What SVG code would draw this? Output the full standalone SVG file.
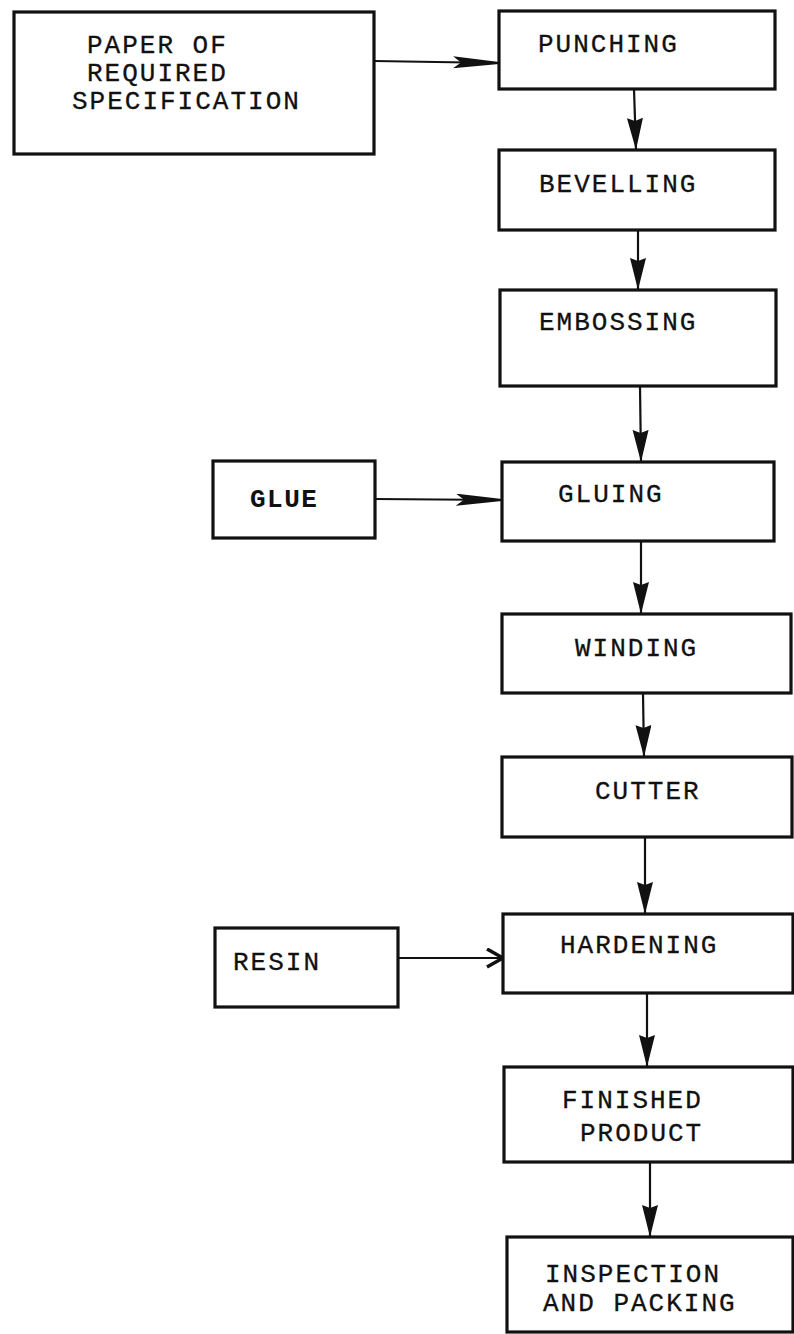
<svg xmlns="http://www.w3.org/2000/svg" width="794" height="1334" viewBox="0 0 794 1334">
<style>
.box{fill:#fff;stroke:#111;stroke-width:3.2}
.t{font-family:"Liberation Mono","Courier New",monospace;font-size:26px;letter-spacing:2px;fill:#111;stroke:#111;stroke-width:0.3}
.tb{font-family:"Liberation Mono","Courier New",monospace;font-size:26px;letter-spacing:1.5px;font-weight:bold;fill:#111}
.c{fill:none;stroke:#111;stroke-width:2.2}
</style>
<defs>
<marker id="ah" markerUnits="userSpaceOnUse" markerWidth="34" markerHeight="18" refX="32" refY="8" orient="auto">
<path d="M0,0 L32,8 L0,16 L3,8 Z" fill="#111"/>
</marker>
<marker id="ahl" markerUnits="userSpaceOnUse" markerWidth="48" markerHeight="14" refX="46" refY="6" orient="auto">
<path d="M0,0 L46,5 L46,7 L0,12 L8,6 Z" fill="#111"/>
</marker>
<marker id="aho" markerUnits="userSpaceOnUse" markerWidth="20" markerHeight="22" refX="17" refY="10" orient="auto">
<path d="M1,1 L17,10 L1,19" fill="none" stroke="#111" stroke-width="3.5"/>
</marker>
</defs>
<rect width="794" height="1334" fill="#fff"/>
<g id="connectors">
<line class="c" x1="374" y1="61" x2="499" y2="63" marker-end="url(#ahl)"/>
<line class="c" x1="634" y1="89" x2="636" y2="150" marker-end="url(#ah)"/>
<line class="c" x1="638" y1="230" x2="638" y2="290" marker-end="url(#ah)"/>
<line class="c" x1="640" y1="386" x2="641" y2="462" marker-end="url(#ah)"/>
<line class="c" x1="375" y1="499" x2="502" y2="500" marker-end="url(#ahl)"/>
<line class="c" x1="641" y1="541" x2="641" y2="614" marker-end="url(#ah)"/>
<line class="c" x1="643" y1="693" x2="644" y2="757" marker-end="url(#ah)"/>
<line class="c" x1="645" y1="837" x2="645" y2="914" marker-end="url(#ah)"/>
<line class="c" x1="398" y1="958" x2="503" y2="958" marker-end="url(#aho)"/>
<line class="c" x1="647" y1="993" x2="647" y2="1067" marker-end="url(#ah)"/>
<line class="c" x1="650" y1="1162" x2="650" y2="1237" marker-end="url(#ah)"/>
</g>
<g id="paper">
<rect class="box" x="14" y="12" width="360" height="142"/>
<text class="t" x="87" y="53">PAPER OF</text>
<text class="t" x="87" y="81">REQUIRED</text>
<text class="t" x="72" y="109">SPECIFICATION</text>
</g>
<g id="punching">
<rect class="box" x="499" y="11" width="276" height="78"/>
<text class="t" x="538" y="52">PUNCHING</text>
</g>
<g id="bevelling">
<rect class="box" x="499" y="150" width="276" height="80"/>
<text class="t" x="539" y="192">BEVELLING</text>
</g>
<g id="embossing">
<rect class="box" x="500" y="290" width="276" height="96"/>
<text class="t" x="539" y="330">EMBOSSING</text>
</g>
<g id="glue">
<rect class="box" x="213" y="461" width="162" height="77"/>
<text class="tb" x="250" y="507">GLUE</text>
</g>
<g id="gluing">
<rect class="box" x="502" y="462" width="272" height="79"/>
<text class="t" x="558" y="502">GLUING</text>
</g>
<g id="winding">
<rect class="box" x="502" y="614" width="289" height="79"/>
<text class="t" x="575" y="656">WINDING</text>
</g>
<g id="cutter">
<rect class="box" x="502" y="757" width="290" height="80"/>
<text class="t" x="595" y="799">CUTTER</text>
</g>
<g id="resin">
<rect class="box" x="215" y="928" width="183" height="79"/>
<text class="t" x="233" y="970">RESIN</text>
</g>
<g id="hardening">
<rect class="box" x="503" y="914" width="290" height="79"/>
<text class="t" x="560" y="953">HARDENING</text>
</g>
<g id="finished">
<rect class="box" x="504" y="1067" width="289" height="95"/>
<text class="t" x="562" y="1108">FINISHED</text>
<text class="t" x="580" y="1141">PRODUCT</text>
</g>
<g id="inspection">
<rect class="box" x="507" y="1237" width="286" height="95"/>
<text class="t" x="545" y="1282">INSPECTION</text>
<text class="t" x="543" y="1311">AND PACKING</text>
</g>
</svg>
